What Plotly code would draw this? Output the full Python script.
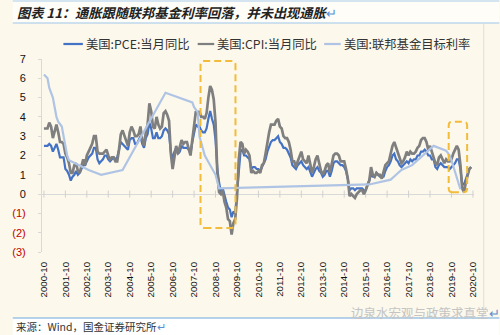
import plotly.graph_objects as go
import pandas as pd

# ---------------- data ----------------
start_month = "2000-10"

# US PCE YoY (%), monthly from 2000-10
pce_yoy = [
    2.5, 2.5, 2.5,
    2.6, 2.5, 2.2, 2.4, 2.6, 2.3, 1.9, 1.9, 1.9, 1.3, 1.2, 1.0,
    0.7, 0.9, 1.0, 1.2, 1.0, 1.1, 1.3, 1.5, 1.5, 1.7, 1.9, 2.0,
    2.1, 2.4, 2.4, 1.8, 1.6, 1.7, 1.8, 2.0, 2.0, 1.8, 1.7, 1.8,
    1.9, 1.8, 1.9, 2.3, 2.7, 2.6, 2.5, 2.4, 2.3, 2.8, 2.9, 2.9,
    2.6, 2.6, 2.8, 3.0, 2.6, 2.4, 2.9, 3.1, 3.7, 3.4, 2.9, 2.9,
    3.2, 2.9, 2.9, 3.0, 3.3, 3.4, 3.3, 3.1, 2.2, 1.8, 2.2, 2.4,
    2.1, 2.2, 2.5, 2.4, 2.4, 2.4, 2.3, 2.1, 2.7, 3.1, 3.6, 3.5,
    3.5, 3.3, 3.2, 3.2, 3.4, 3.9, 4.3, 3.9, 3.6, 2.8, 1.3, 0.6,
    0.1, 0.3, -0.1, -0.4, -0.7, -0.8, -1.2, -0.9, -1.0, 0.2, 1.3, 2.2,
    2.3, 2.0, 2.0, 1.9, 1.8, 1.3, 1.4, 1.4, 1.3, 1.3, 1.2, 1.4,
    1.6, 1.8, 2.2, 2.5, 2.7, 2.8, 2.8, 2.9, 3.0, 2.7, 2.6, 2.4,
    2.4, 2.3, 2.1, 1.9, 1.5, 1.4, 1.3, 1.5, 1.6, 1.7, 1.5, 1.4,
    1.3, 1.4, 1.1, 0.9, 1.1, 1.3, 1.4, 1.2, 1.1, 0.9, 1.0, 1.2,
    1.2, 0.9, 1.2, 1.6, 1.7, 1.7, 1.6, 1.5, 1.5, 1.4, 1.2, 0.8,
    0.2, 0.3, 0.3, 0.2, 0.3, 0.3, 0.3, 0.3, 0.2, 0.2, 0.5, 0.7,
    1.0, 0.9, 0.9, 1.1, 1.0, 0.9, 0.9, 0.9, 1.2, 1.4, 1.5, 1.7,
    2.0, 2.1, 1.8, 1.7, 1.5, 1.4, 1.5, 1.6, 1.7, 1.6, 1.8, 1.7,
    1.8, 1.8, 2.0, 2.0, 2.2, 2.2, 2.3, 2.2, 2.0, 2.0, 1.8, 1.8,
    1.4, 1.3, 1.5, 1.6, 1.5, 1.4, 1.4, 1.4, 1.3, 1.4, 1.5, 1.6,
    1.8, 1.8, 1.3, 0.5, 0.5, 0.8, 1.0, 1.3, 1.4,
]

# US CPI YoY (%), monthly from 2000-10
cpi_yoy = [
    3.4, 3.4, 3.4,
    3.7, 3.5, 2.9, 3.3, 3.6, 3.2, 2.7, 2.7, 2.6, 2.1, 1.9, 1.6,
    1.1, 1.1, 1.5, 1.6, 1.2, 1.1, 1.5, 1.8, 1.5, 2.0, 2.2, 2.4,
    2.6, 3.0, 3.0, 2.2, 2.1, 2.1, 2.1, 2.2, 2.3, 2.0, 1.8, 1.9,
    1.9, 1.7, 1.7, 2.3, 3.1, 3.3, 3.0, 2.7, 2.5, 3.2, 3.5, 3.3,
    3.0, 3.0, 3.1, 3.5, 2.8, 2.5, 3.2, 3.6, 4.7, 4.3, 3.5, 3.4,
    4.0, 3.6, 3.4, 3.5, 4.2, 4.3, 4.1, 3.8, 2.1, 1.3, 2.0, 2.5,
    2.1, 2.4, 2.8, 2.6, 2.7, 2.7, 2.4, 2.0, 2.8, 3.5, 4.3, 4.1,
    4.3, 4.0, 4.0, 3.9, 4.2, 5.0, 5.6, 5.4, 4.9, 3.7, 1.1, 0.1,
    0.0, 0.2, -0.4, -0.7, -1.3, -1.4, -2.1, -1.5, -1.3, -0.2, 1.8, 2.7,
    2.6, 2.1, 2.3, 2.2, 2.0, 1.1, 1.2, 1.1, 1.1, 1.2, 1.1, 1.5,
    1.6, 2.1, 2.7, 3.2, 3.6, 3.6, 3.6, 3.8, 3.9, 3.5, 3.4, 3.0,
    2.9, 2.9, 2.7, 2.3, 1.7, 1.7, 1.4, 1.7, 2.0, 2.2, 1.8, 1.7,
    1.6, 2.0, 1.5, 1.1, 1.4, 1.8, 2.0, 1.5, 1.2, 1.0, 1.2, 1.5,
    1.6, 1.1, 1.5, 2.0, 2.1, 2.1, 2.0, 1.7, 1.7, 1.7, 1.3, 0.8,
    -0.1, 0.0, -0.1, -0.2, 0.0, 0.1, 0.2, 0.2, 0.0, 0.2, 0.5, 0.7,
    1.4, 1.0, 0.9, 1.1, 1.0, 1.0, 0.8, 1.1, 1.5, 1.6, 1.7, 2.1,
    2.5, 2.7, 2.4, 2.2, 1.9, 1.6, 1.7, 1.9, 2.2, 2.0, 2.2, 2.1,
    2.1, 2.2, 2.4, 2.5, 2.8, 2.9, 2.9, 2.7, 2.3, 2.5, 2.2, 1.9,
    1.6, 1.5, 1.9, 2.0, 1.8, 1.6, 1.8, 1.7, 1.7, 1.8, 2.1, 2.3,
    2.5, 2.3, 1.5, 0.3, 0.1, 0.6, 1.0, 1.3, 1.4,
]

# Fed funds target rate (%), only at change dates
fed_dates = ["2000-10", "2000-12", "2001-01", "2001-03", "2001-04", "2001-05",
             "2001-06", "2001-08", "2001-09", "2001-10", "2001-11", "2001-12",
             "2002-11", "2003-06", "2004-06", "2006-06", "2007-09", "2007-10",
             "2007-12", "2008-01", "2008-03", "2008-04", "2008-10", "2008-12",
             "2015-12", "2016-12", "2017-03", "2017-06", "2017-12", "2018-03",
             "2018-06", "2018-09", "2018-12", "2019-07", "2019-09", "2019-10",
             "2020-03"]
fed_rate = [6.2, 6.0, 5.5, 5.0, 4.5, 4.0,
            3.75, 3.5, 3.0, 2.5, 2.0, 1.75,
            1.25, 1.0, 1.25, 5.25, 4.75, 4.5,
            4.25, 3.0, 2.25, 2.0, 1.0, 0.3,
            0.5, 0.75, 1.0, 1.25, 1.5, 1.75,
            2.0, 2.25, 2.5, 2.25, 2.0, 1.75,
            0.25]

x_tick_labels = [f"{y}-10" for y in range(2000, 2021)]
y_tick_vals = [-3, -2, -1, 0, 1, 2, 3, 4, 5, 6, 7]

series_names = ["美国:PCE:当月同比", "美国:CPI:当月同比", "美国:联邦基金目标利率"]
series_colors = ["#4472C4", "#7F7F7F", "#AFC4E4"]


# ---------------- helpers ----------------
def month_to_num(s):
    y, m = s.split("-")
    return int(y) + (int(m) - 1) / 12.0


months = [str(p) for p in pd.period_range(start_month, periods=len(cpi_yoy), freq="M")]
x_month = [month_to_num(m) for m in months]
x_fed = [month_to_num(m) for m in fed_dates]
x_ticks = [month_to_num(t) for t in x_tick_labels]

W, H = 500, 335
L, R, T, B = 30, 26, 59, 83
PW, PH = W - L - R, H - T - B


def px(xp):
    return (xp - L) / PW


def py(yp):
    return (H - B - yp) / PH


def ytxt(v):
    if v < 0:
        return f'<span style="color:#C00000">({abs(v)})</span>'
    return str(v)


fig = go.Figure()

# zero-line tick marks
fig.add_trace(go.Scatter(
    x=x_ticks, y=[0] * len(x_ticks), mode="markers",
    marker=dict(symbol="line-ns", size=5, line=dict(color="#D0D0D0", width=1)),
    hoverinfo="skip", showlegend=False))

fig.add_trace(go.Scatter(x=x_month, y=pce_yoy, mode="lines", name=series_names[0],
                         line=dict(color=series_colors[0], width=2.2), showlegend=False))
fig.add_trace(go.Scatter(x=x_month, y=cpi_yoy, mode="lines", name=series_names[1],
                         line=dict(color=series_colors[1], width=2.7), showlegend=False))
fig.add_trace(go.Scatter(x=x_fed, y=fed_rate, mode="lines", name=series_names[2],
                         line=dict(color=series_colors[2], width=2.2), showlegend=False))


def rrect(x0, x1, y0, y1, rx, ry):
    return (f"M{x0+rx},{y0} L{x1-rx},{y0} Q{x1},{y0} {x1},{y0+ry} "
            f"L{x1},{y1-ry} Q{x1},{y1} {x1-rx},{y1} L{x0+rx},{y1} "
            f"Q{x0},{y1} {x0},{y1-ry} L{x0},{y0+ry} Q{x0},{y0} {x0+rx},{y0} Z")


shapes = []
# backgrounds
shapes.append(dict(type="rect", xref="paper", yref="paper", x0=px(0), x1=px(W),
                   y0=py(23), y1=py(0), fillcolor="#FEFDF8", line_width=0, layer="below"))
shapes.append(dict(type="rect", xref="paper", yref="paper", x0=px(0), x1=px(W),
                   y0=py(H), y1=py(318), fillcolor="#FFFFFF", line_width=0, layer="below"))
# separator lines
for yy, col in [(1, "#A9CDEA"), (23, "#9CC6E8"), (318, "#6FA8DC")]:
    shapes.append(dict(type="line", xref="paper", yref="paper", x0=px(0), x1=px(W),
                       y0=py(yy), y1=py(yy), line=dict(color=col, width=1.2)))
# right frame border
shapes.append(dict(type="line", xref="paper", yref="paper", x0=px(484), x1=px(484),
                   y0=py(24), y1=py(317), line=dict(color="#E2DDD0", width=1)))
# dashed highlight boxes
box_col = "#F2BC3A"
shapes.append(dict(type="path", xref="x", yref="y",
                   path=rrect(2008.05, 2009.68, -1.75, 6.9, 0.18, 0.21),
                   line=dict(color=box_col, width=2, dash="7px,4px")))
shapes.append(dict(type="path", xref="x", yref="y",
                   path=rrect(2019.62, 2020.48, 0.1, 3.75, 0.15, 0.2),
                   line=dict(color=box_col, width=2, dash="7px,4px")))

# manual legend
legend_items = [(52, 72, 73), (190, 207, 208), (320, 337, 338)]
annotations = []
for (lx0, lx1, tx), name, col in zip(legend_items, series_names, series_colors):
    shapes.append(dict(type="line", xref="paper", yref="paper", x0=px(lx0), x1=px(lx1),
                       y0=py(44), y1=py(44), line=dict(color=col, width=2.2)))
    annotations.append(dict(xref="paper", yref="paper", x=px(tx), y=py(44), text=name,
                            showarrow=False, xanchor="left", yanchor="middle",
                            font=dict(family="Noto Sans CJK SC", size=12.3, color="#333333")))

# title
annotations.append(dict(
    xref="paper", yref="paper", x=px(2), y=py(12), xanchor="left", yanchor="middle",
    showarrow=False,
    text='<b><i>图表 11：通胀跟随联邦基金利率回落，并未出现通胀</i></b>'
         '<span style="color:#5B8FD0">↵</span>',
    font=dict(family="Noto Sans CJK SC", size=13.2, color="#222222")))
# source
annotations.append(dict(
    xref="paper", yref="paper", x=px(1), y=py(326), xanchor="left", yanchor="middle",
    showarrow=False,
    text='来源：Wind，国金证券研究所<span style="color:#5B8FD0">↵</span>',
    font=dict(family="Noto Sans CJK SC", size=10.5, color="#333333")))
# watermark
annotations.append(dict(
    xref="paper", yref="paper", x=px(346), y=py(312), xanchor="left", yanchor="middle",
    showarrow=False,
    text='边泉水宏观与政策求真堂<span style="color:#5B8FD0">↵</span>',
    font=dict(family="Noto Sans CJK SC", size=12.5, color="#C4C4C4")))

fig.update_layout(
    width=W, height=H,
    margin=dict(l=L, r=R, t=T, b=B, pad=0),
    paper_bgcolor="#FCF8EC", plot_bgcolor="#FCF8EC",
    showlegend=False,
    shapes=shapes, annotations=annotations,
    xaxis=dict(range=[2000.66, 2020.80], tickmode="array", tickvals=x_ticks,
               ticktext=x_tick_labels, tickangle=-90, showgrid=False, zeroline=False,
               showline=False, ticks="", ticklabelstandoff=7,
               tickfont=dict(family="Liberation Sans", size=9.7, color="#111111")),
    yaxis=dict(range=[-3, 7], tickmode="array", tickvals=y_tick_vals,
               ticktext=[ytxt(v) for v in y_tick_vals], showgrid=False,
               zeroline=True, zerolinecolor="#D9D9D9", zerolinewidth=1,
               showline=True, linecolor="#D9D9D9", linewidth=1,
               ticks="outside", ticklen=3, tickcolor="#D9D9D9",
               ticklabelstandoff=10,
               tickfont=dict(family="Liberation Sans", size=11, color="#111111")),
)

fig.write_html("out.html")
